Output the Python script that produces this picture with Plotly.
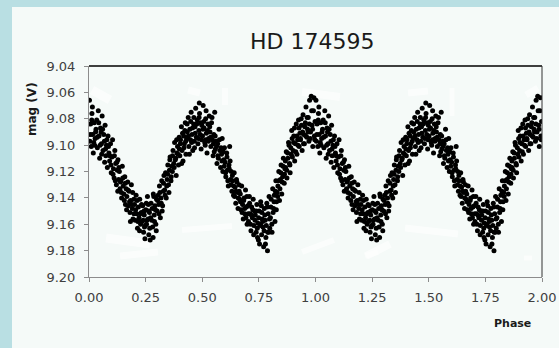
import plotly.graph_objects as go

# Phase-folded V-band photometry of HD 174595 (one cycle; plotted twice)
phase = [
    0.002, 0.004, 0.007, 0.010, 0.013, 0.016, 0.019, 0.023, 0.027, 0.031,
    0.034, 0.037, 0.041, 0.044, 0.047, 0.051, 0.055, 0.058, 0.062, 0.065,
    0.068, 0.071, 0.074, 0.077, 0.081, 0.084, 0.088, 0.091, 0.095, 0.098,
    0.101, 0.104, 0.108, 0.111, 0.114, 0.118, 0.121, 0.125, 0.128, 0.131,
    0.134, 0.137, 0.141, 0.144, 0.147, 0.151, 0.154, 0.158, 0.161, 0.164,
    0.167, 0.171, 0.174, 0.177, 0.181, 0.184, 0.187, 0.191, 0.194, 0.198,
    0.201, 0.204, 0.208, 0.211, 0.214, 0.218, 0.221, 0.224, 0.228, 0.231,
    0.234, 0.237, 0.241, 0.244, 0.247, 0.251, 0.254, 0.258, 0.261, 0.264,
    0.267, 0.270, 0.274, 0.277, 0.281, 0.284, 0.288, 0.291, 0.295, 0.298,
    0.301, 0.305, 0.308, 0.311, 0.315, 0.318, 0.321, 0.325, 0.328, 0.331,
    0.334, 0.338, 0.341, 0.345, 0.348, 0.351, 0.355, 0.358, 0.362, 0.365,
    0.368, 0.371, 0.374, 0.378, 0.381, 0.385, 0.388, 0.391, 0.395, 0.398,
    0.401, 0.404, 0.408, 0.411, 0.415, 0.418, 0.421, 0.425, 0.428, 0.431,
    0.434, 0.438, 0.441, 0.445, 0.448, 0.451, 0.455, 0.458, 0.462, 0.465,
    0.468, 0.471, 0.474, 0.478, 0.481, 0.485, 0.488, 0.491, 0.495, 0.498,
    0.501, 0.504, 0.508, 0.511, 0.515, 0.518, 0.521, 0.525, 0.528, 0.531,
    0.534, 0.538, 0.541, 0.545, 0.548, 0.551, 0.555, 0.558, 0.562, 0.565,
    0.568, 0.571, 0.574, 0.578, 0.581, 0.585, 0.588, 0.591, 0.595, 0.598,
    0.601, 0.604, 0.608, 0.611, 0.615, 0.618, 0.621, 0.625, 0.628, 0.631,
    0.634, 0.638, 0.641, 0.645, 0.648, 0.651, 0.655, 0.658, 0.662, 0.665,
    0.668, 0.671, 0.674, 0.678, 0.681, 0.685, 0.688, 0.691, 0.695, 0.698,
    0.701, 0.704, 0.708, 0.711, 0.715, 0.718, 0.721, 0.725, 0.728, 0.731,
    0.734, 0.738, 0.741, 0.745, 0.748, 0.751, 0.755, 0.758, 0.762, 0.765,
    0.768, 0.771, 0.774, 0.778, 0.781, 0.785, 0.788, 0.791, 0.795, 0.798,
    0.801, 0.804, 0.808, 0.811, 0.815, 0.818, 0.821, 0.825, 0.828, 0.831,
    0.834, 0.838, 0.841, 0.845, 0.848, 0.851, 0.855, 0.858, 0.862, 0.865,
    0.868, 0.871, 0.874, 0.878, 0.881, 0.885, 0.888, 0.891, 0.895, 0.898,
    0.901, 0.904, 0.908, 0.911, 0.915, 0.918, 0.921, 0.925, 0.928, 0.931,
    0.934, 0.938, 0.941, 0.945, 0.948, 0.951, 0.955, 0.958, 0.962, 0.965,
    0.968, 0.971, 0.974, 0.978, 0.981, 0.985, 0.988, 0.991, 0.995, 0.998,
    # second night set
    0.006, 0.015, 0.021, 0.029, 0.036, 0.043, 0.049, 0.056, 0.060, 0.069,
    0.073, 0.079, 0.086, 0.092, 0.097, 0.106, 0.112, 0.116, 0.123, 0.127,
    0.132, 0.139, 0.143, 0.149, 0.156, 0.160, 0.166, 0.172, 0.179, 0.183,
    0.189, 0.193, 0.199, 0.206, 0.212, 0.216, 0.223, 0.227, 0.232, 0.239,
    0.243, 0.249, 0.253, 0.256, 0.263, 0.268, 0.272, 0.279, 0.283, 0.289,
    0.293, 0.297, 0.303, 0.309, 0.313, 0.319, 0.323, 0.329, 0.336, 0.343,
    0.347, 0.353, 0.357, 0.363, 0.369, 0.376, 0.383, 0.387, 0.393, 0.399,
    0.403, 0.409, 0.413, 0.419, 0.423, 0.427, 0.433, 0.439, 0.443, 0.449,
    0.453, 0.457, 0.463, 0.469, 0.476, 0.483, 0.487, 0.493, 0.497, 0.503,
    0.507, 0.513, 0.517, 0.523, 0.527, 0.533, 0.537, 0.543, 0.549, 0.553,
    0.557, 0.563, 0.569, 0.576, 0.583, 0.587, 0.593, 0.597, 0.603, 0.609,
    0.613, 0.619, 0.623, 0.627, 0.633, 0.639, 0.643, 0.649, 0.653, 0.659,
    0.663, 0.669, 0.676, 0.683, 0.687, 0.693, 0.697, 0.703, 0.709, 0.713,
    0.717, 0.723, 0.727, 0.733, 0.739, 0.743, 0.749, 0.753, 0.757, 0.763,
    0.767, 0.773, 0.776, 0.783, 0.787, 0.793, 0.797, 0.803, 0.807, 0.813,
    0.817, 0.823, 0.827, 0.833, 0.837, 0.843, 0.847, 0.853, 0.857, 0.863,
    0.867, 0.873, 0.877, 0.883, 0.887, 0.893, 0.897, 0.903, 0.907, 0.913,
    0.917, 0.923, 0.927, 0.933, 0.937, 0.943, 0.947, 0.953, 0.957, 0.963,
    0.967, 0.973, 0.977, 0.983, 0.987, 0.993, 0.997, 0.012, 0.025, 0.053,
    0.245, 0.262, 0.286, 0.744, 0.761, 0.779, 0.789, 0.466, 0.486, 0.516,
]

mag_v = [
    9.066, 9.097, 9.084, 9.101, 9.076, 9.092, 9.106, 9.083, 9.095, 9.088,
    9.081, 9.102, 9.074, 9.093, 9.110, 9.087, 9.099, 9.078, 9.104, 9.092,
    9.097, 9.085, 9.108, 9.100, 9.117, 9.093, 9.106, 9.112, 9.099, 9.121,
    9.109, 9.096, 9.118, 9.125, 9.104, 9.114, 9.130, 9.119, 9.111, 9.126,
    9.120, 9.133, 9.127, 9.140, 9.116, 9.131, 9.137, 9.124, 9.145, 9.133,
    9.139, 9.128, 9.146, 9.135, 9.151, 9.142, 9.130, 9.148, 9.156, 9.141,
    9.145, 9.157, 9.138, 9.152, 9.163, 9.147, 9.155, 9.141, 9.160, 9.151,
    9.158, 9.146, 9.166, 9.153, 9.171, 9.149, 9.160, 9.139, 9.156, 9.168,
    9.151, 9.172, 9.144, 9.157, 9.162, 9.137, 9.153, 9.146, 9.160, 9.141,
    9.150, 9.138, 9.145, 9.131, 9.155, 9.140, 9.127, 9.146, 9.135, 9.123,
    9.134, 9.121, 9.140, 9.126, 9.115, 9.130, 9.119, 9.109, 9.127, 9.116,
    9.120, 9.104, 9.114, 9.098, 9.111, 9.123, 9.106, 9.101, 9.115, 9.094,
    9.108, 9.096, 9.086, 9.104, 9.112, 9.093, 9.099, 9.083, 9.107, 9.095,
    9.090, 9.079, 9.101, 9.088, 9.096, 9.075, 9.092, 9.104, 9.084, 9.097,
    9.086, 9.072, 9.094, 9.081, 9.099, 9.089, 9.076, 9.092, 9.103, 9.085,
    9.093, 9.070, 9.087, 9.098, 9.080, 9.091, 9.106, 9.084, 9.095, 9.078,
    9.090, 9.101, 9.083, 9.096, 9.108, 9.092, 9.075, 9.103, 9.097, 9.114,
    9.099, 9.110, 9.088, 9.104, 9.117, 9.107, 9.095, 9.120, 9.111, 9.102,
    9.113, 9.124, 9.106, 9.119, 9.131, 9.115, 9.101, 9.126, 9.120, 9.135,
    9.127, 9.138, 9.121, 9.132, 9.144, 9.126, 9.136, 9.148, 9.130, 9.141,
    9.137, 9.149, 9.131, 9.145, 9.156, 9.140, 9.152, 9.134, 9.147, 9.160,
    9.146, 9.158, 9.139, 9.152, 9.165, 9.147, 9.155, 9.141, 9.161, 9.150,
    9.153, 9.166, 9.145, 9.159, 9.172, 9.150, 9.161, 9.143, 9.168, 9.156,
    9.162, 9.177, 9.148, 9.157, 9.170, 9.144, 9.180, 9.152, 9.139, 9.163,
    9.155, 9.141, 9.166, 9.133, 9.148, 9.138, 9.158, 9.127, 9.143, 9.136,
    9.131, 9.120, 9.142, 9.126, 9.115, 9.137, 9.124, 9.110, 9.129, 9.118,
    9.117, 9.105, 9.125, 9.110, 9.098, 9.114, 9.121, 9.102, 9.089, 9.109,
    9.104, 9.093, 9.112, 9.099, 9.084, 9.107, 9.096, 9.081, 9.101, 9.091,
    9.096, 9.085, 9.104, 9.077, 9.092, 9.099, 9.083, 9.071, 9.094, 9.088,
    9.079, 9.097, 9.066, 9.090, 9.063, 9.085, 9.101, 9.074, 9.093, 9.082,
    # second night set
    9.092, 9.071, 9.098, 9.090, 9.094, 9.083, 9.100, 9.107, 9.088, 9.113,
    9.103, 9.096, 9.101, 9.108, 9.115, 9.122, 9.108, 9.127, 9.113, 9.135,
    9.117, 9.128, 9.136, 9.125, 9.142, 9.129, 9.149, 9.134, 9.143, 9.158,
    9.145, 9.136, 9.152, 9.149, 9.142, 9.158, 9.165, 9.152, 9.145, 9.157,
    9.150, 9.161, 9.144, 9.157, 9.150, 9.163, 9.155, 9.148, 9.170, 9.158,
    9.149, 9.165, 9.142, 9.152, 9.136, 9.144, 9.150, 9.129, 9.138, 9.131,
    9.122, 9.136, 9.111, 9.124, 9.108, 9.117, 9.110, 9.096, 9.107, 9.103,
    9.099, 9.114, 9.091, 9.102, 9.089, 9.097, 9.084, 9.093, 9.107, 9.082,
    9.098, 9.087, 9.079, 9.091, 9.084, 9.095, 9.068, 9.083, 9.096, 9.088,
    9.082, 9.100, 9.074, 9.089, 9.097, 9.086, 9.094, 9.079, 9.099, 9.105,
    9.093, 9.101, 9.108, 9.096, 9.102, 9.112, 9.105, 9.116, 9.121, 9.109,
    9.127, 9.118, 9.112, 9.130, 9.123, 9.131, 9.139, 9.135, 9.128, 9.140,
    9.135, 9.143, 9.151, 9.142, 9.148, 9.155, 9.139, 9.152, 9.144, 9.160,
    9.153, 9.149, 9.168, 9.157, 9.150, 9.163, 9.155, 9.175, 9.160, 9.151,
    9.158, 9.165, 9.153, 9.161, 9.147, 9.166, 9.156, 9.147, 9.160, 9.151,
    9.143, 9.135, 9.149, 9.139, 9.127, 9.133, 9.121, 9.128, 9.116, 9.122,
    9.112, 9.119, 9.106, 9.100, 9.115, 9.107, 9.095, 9.098, 9.087, 9.105,
    9.093, 9.100, 9.087, 9.095, 9.080, 9.090, 9.099, 9.086, 9.093, 9.079,
    9.090, 9.084, 9.095, 9.074, 9.088, 9.064, 9.096, 9.081, 9.100, 9.090,
    9.162, 9.145, 9.139, 9.170, 9.146, 9.175, 9.166, 9.102, 9.079, 9.096,
]

cycles = [0, 1]
x_ticks = [0.00, 0.25, 0.50, 0.75, 1.00, 1.25, 1.50, 1.75, 2.00]
y_ticks = [9.04, 9.06, 9.08, 9.10, 9.12, 9.14, 9.16, 9.18, 9.20]

x_all = [p + c for c in cycles for p in phase]
y_all = [m for c in cycles for m in mag_v]

W, H = 559, 348
L, R, T, B = 89, 17, 66, 71
pw, ph = W - L - R, H - T - B


def px_x(px):
    return (px - L) / pw


def px_y(py):
    return (H - B - py) / ph


FONT = "DejaVu Sans"
BG = "#f5faf8"
FRAME = "#b9dfe3"
AX = "#8c8c8c"

# faint white smears on the plot background (pixel strokes: x0, y0, x1, y1, width)
smears = [
    (92, 90, 110, 100, 9), (188, 90, 200, 93, 7), (225, 88, 225, 105, 6),
    (302, 92, 340, 97, 8), (408, 93, 428, 91, 7), (452, 88, 452, 116, 5),
    (526, 95, 538, 88, 7), (106, 238, 150, 244, 9), (120, 256, 158, 252, 7),
    (182, 230, 232, 226, 6), (302, 252, 334, 240, 6), (365, 256, 378, 252, 6),
    (405, 228, 458, 234, 7), (366, 256, 390, 244, 8), (524, 258, 532, 258, 5),
]

smear_shapes = [
    dict(type="line", xref="paper", yref="paper", layer="below", opacity=0.6,
         x0=px_x(a), y0=px_y(b), x1=px_x(c), y1=px_y(d),
         line=dict(color="#ffffff", width=w))
    for a, b, c, d, w in smears
]

fig = go.Figure(
    go.Scatter(
        x=x_all,
        y=y_all,
        mode="markers",
        marker=dict(size=5, color="#000000", line=dict(width=0)),
        hoverinfo="skip",
    )
)

fig.update_layout(
    width=W,
    height=H,
    margin=dict(l=L, r=R, t=T, b=B),
    paper_bgcolor=BG,
    plot_bgcolor=BG,
    showlegend=False,
    font=dict(family=FONT, color="#404040", size=13),
    xaxis=dict(
        range=[0, 2],
        tickvals=x_ticks,
        tickformat=".2f",
        automargin=False,
        showgrid=False,
        zeroline=False,
        showline=True,
        linecolor=AX,
        linewidth=1,
        ticks="outside",
        ticklen=4,
        tickcolor=AX,
        ticklabelstandoff=4,
        tickfont=dict(size=13, color="#404040"),
    ),
    yaxis=dict(
        range=[9.20, 9.04],
        tickvals=y_ticks,
        tickformat=".2f",
        automargin=False,
        showgrid=False,
        zeroline=False,
        showline=True,
        linecolor=AX,
        linewidth=1,
        ticks="outside",
        ticklen=4,
        tickcolor=AX,
        ticklabelstandoff=6,
        tickfont=dict(size=13, color="#404040"),
    ),
    shapes=[
        # outer frame bands
        dict(type="rect", xref="paper", yref="paper", layer="below",
             x0=px_x(0), x1=px_x(12), y0=px_y(H), y1=px_y(0),
             fillcolor=FRAME, line=dict(width=0)),
        dict(type="rect", xref="paper", yref="paper", layer="below",
             x0=px_x(0), x1=px_x(W), y0=px_y(7), y1=px_y(0),
             fillcolor=FRAME, line=dict(width=0)),
    ] + smear_shapes + [
        # top and right borders of the plot box
        dict(type="line", xref="paper", yref="paper", x0=0, x1=1, y0=1, y1=1,
             line=dict(color="#000000", width=1.5)),
        dict(type="line", xref="paper", yref="paper", x0=1, x1=1, y0=0, y1=1,
             line=dict(color="#333333", width=1)),
    ],
    annotations=[
        dict(text="HD 174595", xref="paper", yref="paper",
             x=px_x(312), y=px_y(42), showarrow=False,
             xanchor="center", yanchor="middle",
             font=dict(family=FONT, size=22, color="#1a1a1a")),
        dict(text="<b>mag (V)</b>", xref="paper", yref="paper",
             x=px_x(32), y=px_y(109), showarrow=False, textangle=-90,
             xanchor="center", yanchor="middle",
             font=dict(family=FONT, size=12, color="#1a1a1a")),
        dict(text="<b>Phase</b>", xref="paper", yref="paper",
             x=px_x(512), y=px_y(323), showarrow=False,
             xanchor="center", yanchor="middle",
             font=dict(family=FONT, size=11, color="#1a1a1a")),
    ],
)

fig.write_html("out.html")
